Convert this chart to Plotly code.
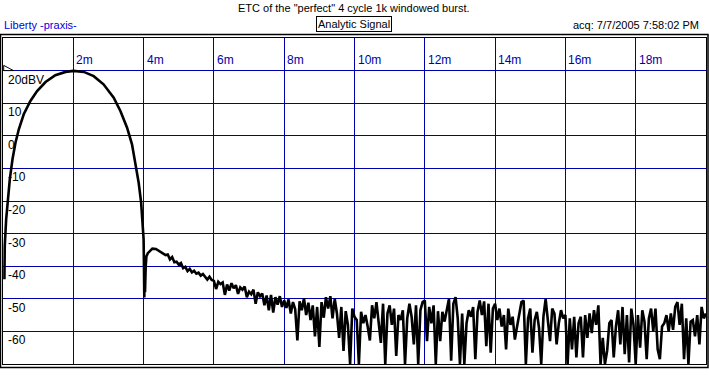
import numpy as np
import plotly.graph_objects as go

# ---------------- data ----------------
title_text = 'ETC of the "perfect" 4 cycle 1k windowed burst.'
left_text = "Liberty -praxis-"
mode_text = "Analytic Signal"
acq_text = "acq: 7/7/2005 7:58:02 PM"

x_ticks = [2, 4, 6, 8, 10, 12, 14, 16, 18]
x_tick_labels = ["2m", "4m", "6m", "8m", "10m", "12m", "14m", "16m", "18m"]
y_ticks = [20, 10, 0, -10, -20, -30, -40, -50, -60]
y_tick_labels = ["20dBV", "10", "0", "-10", "-20", "-30", "-40", "-50", "-60"]

# main lobe of the burst envelope (time in ms, level in dBV)
lobe_t = [0.04, 0.05, 0.09, 0.137, 0.194, 0.27, 0.355, 0.45, 0.59, 0.78, 0.97,
          1.21, 1.49, 1.78, 2.01, 2.30, 2.58, 2.86, 3.15, 3.34, 3.53, 3.67,
          3.76, 3.86, 3.93, 3.97, 4.00, 4.01, 4.02, 4.03, 4.04, 4.06, 4.08,
          4.12, 4.18, 4.25, 4.35, 4.45]
lobe_db = [-44, -33.8, -25.6, -19.5, -13.3, -7.2, -2.1, 2.0, 6.6, 10.7, 13.7,
           16.5, 18.6, 19.6, 19.9, 19.6, 18.3, 15.8, 11.7, 7.6, 2.5, -2.6,
           -7.7, -14.4, -20.5, -26.6, -31.7, -40, -49.6, -38, -48, -40, -37,
           -36, -35.2, -34.6, -34.7, -35.4]

# decaying tail / noise floor, sampled every 1/16 ms from 4.5 ms to 20 ms
tail_start_ms = 4.5
tail_step_ms = 1 / 16
tail_db = [
    -35.8, -36.0, -36.6, -36.4, -37.9, -37.2, -38.8, -38.6,
    -39.5, -39.0, -40.6, -40.2, -41.5, -40.8, -41.9, -41.4,
    -42.3, -42.0, -42.9, -42.4, -43.3, -44.1, -43.2, -44.2,
    -44.5, -47.0, -44.8, -45.5, -45.0, -48.8, -45.6, -47.5,
    -45.2, -46.8, -45.8, -48.5, -46.5, -47.2, -46.2, -49.5,
    -47.8, -48.6, -47.2, -51.5, -48.0, -49.2, -48.4, -52.0,
    -49.0, -53.5, -48.8, -54.2, -49.5, -51.8, -49.2, -52.5,
    -50.5, -52.8, -50.2, -54.5, -51.0, -53.2, -62.8, -50.8,
    -53.5, -49.8, -55.0, -51.2, -56.5, -52.0, -61.5, -52.5,
    -64.8, -51.0, -55.8, -49.5, -53.0, -49.2, -56.0, -50.0,
    -54.5, -62.0, -52.5, -66.0, -53.8, -58.0, -70.0, -53.0,
    -55.5, -56.5, -70.0, -54.0, -57.5, -55.0, -58.5, -62.8,
    -52.0, -56.0, -51.0, -57.0, -63.5, -51.5, -70.0, -54.5,
    -52.0, -58.0, -53.0, -67.5, -55.0, -56.5, -53.5, -70.0,
    -56.0, -51.5, -55.5, -64.0, -52.0, -70.0, -53.5, -51.0,
    -50.5, -63.0, -52.5, -57.5, -52.0, -70.0, -53.8, -63.0,
    -54.0, -57.0, -53.5, -50.0, -69.0, -51.5, -49.5, -56.0,
    -70.0, -54.5, -70.0, -57.5, -53.5, -55.5, -52.5, -68.5,
    -54.0, -50.5, -55.0, -50.8, -64.5, -51.5, -66.5, -53.0,
    -51.5, -56.5, -53.0, -58.5, -55.0, -65.5, -53.0, -58.0,
    -55.5, -62.5, -58.5, -55.0, -51.0, -50.5, -70.0, -56.0,
    -53.0, -66.5, -56.5, -54.0, -59.0, -70.0, -55.5, -50.0,
    -56.0, -63.0, -53.0, -54.5, -64.0, -57.5, -53.5, -56.0,
    -55.0, -70.0, -56.0, -65.5, -55.5, -68.0, -57.5, -55.5,
    -68.0, -55.0, -62.0, -54.5, -60.5, -53.5, -58.0, -52.0,
    -70.0, -62.0, -70.0, -66.0, -57.5, -56.5, -68.0, -58.5,
    -53.5, -64.0, -52.5, -67.0, -55.0, -69.5, -53.0, -58.0,
    -70.0, -55.0, -65.0, -53.5, -57.0, -68.5, -56.0, -53.0,
    -60.0, -53.0, -65.5, -68.5, -58.5, -57.5, -55.0, -60.0,
    -54.5, -59.5, -52.5, -51.0, -58.0, -51.5, -68.5, -56.0,
    -70.0, -57.0, -56.5, -61.5, -55.0, -64.0, -52.5, -56.0,
    -54.5,
]

# ---------------- figure ----------------
W, H = 709, 380
ML, MR, MT, MB = 3, 3, 38, 16
PW, PH = W - ML - MR, H - MT - MB


def px_to_paper_x(px):
    return (px - ML) / PW


def py_to_paper_y(py):
    return (H - MB - py) / PH


tail_t = tail_start_ms + np.arange(len(tail_db)) * tail_step_ms
t_all = np.concatenate([np.array(lobe_t), tail_t])
db_all = np.concatenate([np.array(lobe_db), np.array(tail_db)])

GRID = "#0000A8"
FONT = "Liberation Sans, Arial, sans-serif"

fig = go.Figure()
fig.add_trace(go.Scatter(x=t_all, y=db_all, mode="lines",
                         line=dict(color="black", width=2.6),
                         hoverinfo="skip", showlegend=False))

fig.update_layout(
    width=W, height=H,
    margin=dict(l=ML, r=MR, t=MT, b=MB, pad=0),
    paper_bgcolor="white", plot_bgcolor="white",
    font=dict(family=FONT, size=11, color="black"),
    xaxis=dict(range=[0, 20], tickvals=x_ticks, showticklabels=False,
               showgrid=True, gridcolor=GRID, gridwidth=1, zeroline=False,
               showline=True, linecolor="black", linewidth=1, mirror=True,
               ticks=""),
    yaxis=dict(range=[-70, 30], tickvals=y_ticks, showticklabels=False,
               showgrid=True, gridcolor=GRID, gridwidth=1, zeroline=False,
               showline=True, linecolor="black", linewidth=1, mirror=True,
               ticks=""),
)

# x tick labels, inside the plot, right of each gridline
for v, lab in zip(x_ticks, x_tick_labels):
    fig.add_annotation(x=v, y=py_to_paper_y(60), xref="x", yref="paper",
                       text=lab, showarrow=False, xanchor="left",
                       yanchor="middle", xshift=1,
                       font=dict(family=FONT, size=12, color=GRID))

# y tick labels, inside the plot, below each gridline
for v, lab in zip(y_ticks, y_tick_labels):
    fig.add_annotation(x=0, y=v, xref="x", yref="y", text=lab,
                       showarrow=False, xanchor="left", yanchor="top",
                       xshift=3, yshift=0,
                       font=dict(family=FONT, size=12, color="black"))

# reference level marker (small right triangle at 20 dBV)
fig.add_shape(type="path", xref="x", yref="y",
              path="M 0.02 20 L 0.02 21.6 L 0.30 20 Z",
              line=dict(color="black", width=1), fillcolor="white")

# header texts
fig.add_annotation(x=px_to_paper_x(354), y=py_to_paper_y(8), xref="paper",
                   yref="paper", text=title_text, showarrow=False,
                   xanchor="center", yanchor="middle",
                   font=dict(family=FONT, size=11, color="black"))
fig.add_annotation(x=px_to_paper_x(2), y=py_to_paper_y(25), xref="paper",
                   yref="paper", text=left_text, showarrow=False,
                   xanchor="left", yanchor="middle",
                   font=dict(family=FONT, size=11, color="#0000E0"))
fig.add_annotation(x=px_to_paper_x(354), y=py_to_paper_y(24), xref="paper",
                   yref="paper", text=mode_text, showarrow=False,
                   xanchor="center", yanchor="middle",
                   bordercolor="black", borderwidth=1, borderpad=1,
                   font=dict(family=FONT, size=11, color="black"))
fig.add_annotation(x=px_to_paper_x(701), y=py_to_paper_y(25), xref="paper",
                   yref="paper", text=acq_text, showarrow=False,
                   xanchor="right", yanchor="middle",
                   font=dict(family=FONT, size=11, color="black"))

# outer frame around the plot
fig.add_shape(type="rect", xref="paper", yref="paper",
              x0=px_to_paper_x(0.5), x1=px_to_paper_x(708),
              y0=py_to_paper_y(367.5), y1=py_to_paper_y(34.5),
              line=dict(color="black", width=1.5), layer="above")

fig.write_html(
    "out.html",
    config={"displayModeBar": False},
    post_script="document.body.style.margin='0';document.body.style.padding='0';",
)
